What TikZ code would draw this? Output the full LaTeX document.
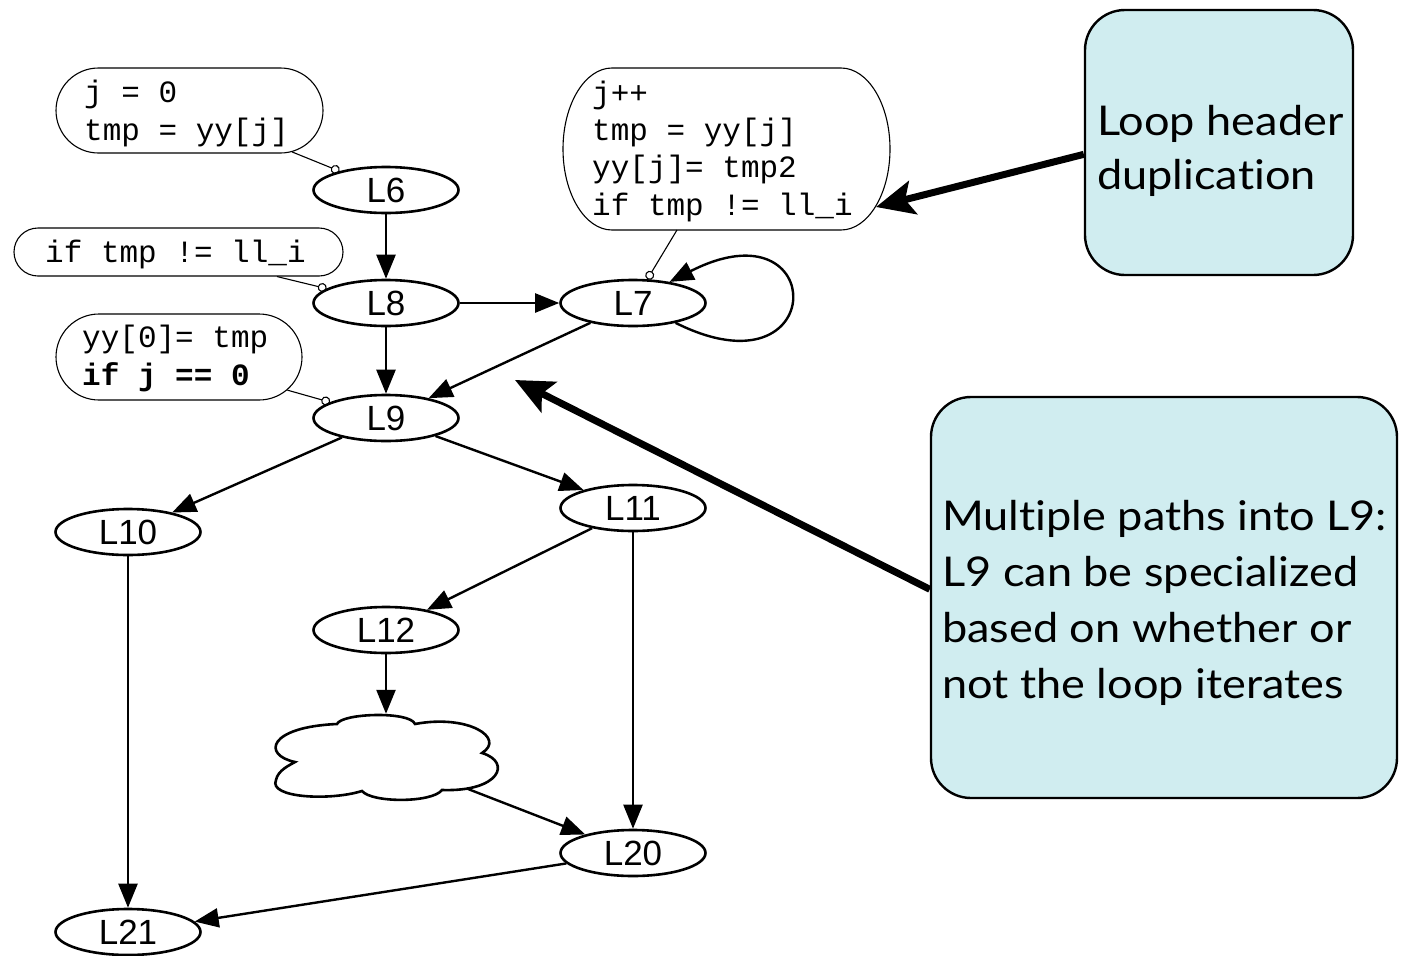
\documentclass[tikz,border=0pt]{standalone}
\usepackage{fontspec}
\setmainfont{Liberation Sans}
\newfontfamily\codefont{Liberation Mono}
\newfontfamily\notefont[FakeStretch=1.1,Ligatures=NoCommon]{Lato}
\usetikzlibrary{arrows.meta,shapes.geometric,shapes.misc}
\definecolor{noteblue}{RGB}{208,237,240}

\begin{document}
\begin{tikzpicture}[x=1pt,y=-1pt,
  block/.style={ellipse,draw,line width=2.6pt,minimum width=145pt,minimum height=46pt,
    inner sep=0pt,font=\fontsize{35}{40}\selectfont},
  flow/.style={line width=2.4pt,-{Triangle[length=24pt,width=19pt]}},
  codebox/.style={rounded rectangle,draw,line width=1.1pt,inner sep=0pt},
  codetext/.style={anchor=base west,align=left,inner sep=0pt,
    font=\codefont\fontsize{31}{37.3}\selectfont},
  tie/.style={line width=1.1pt,-{Circle[open,length=9pt,line width=1.1pt]}},
  notebox/.style={draw,line width=2.4pt,rounded corners=40pt,fill=noteblue,inner sep=0pt},
  notetext/.style={anchor=base west,align=left,inner sep=0pt,font=\notefont\fontsize{41}{55}\selectfont},
  pointer/.style={line width=7pt,-{Stealth[length=38pt,width=34pt,inset=8pt]}}]
\useasboundingbox (0,0) rectangle (1401,956);

% control-flow blocks
\node[block] (L6)  at (386,190) {L6};
\node[block] (L8)  at (386,303) {L8};
\node[block] (L7)  at (633,303) {L7};
\node[block] (L9)  at (386,418) {L9};
\node[block] (L10) at (128,532) {L10};
\node[block] (L11) at (633,508) {L11};
\node[block] (L12) at (386,630) {L12};
\node[block] (L20) at (633,853) {L20};
\node[block] (L21) at (128,932) {L21};

% the elided region between L12 and L20
\node[minimum width=228pt,minimum height=86pt,inner sep=0pt] (cloud) at (386,757) {};
\draw[line width=2.6pt]
  (295,762) .. controls (262,755) and (268,727) .. (337,724)
  .. controls (342,713) and (410,711) .. (415,724)
  .. controls (468,714) and (506,738) .. (482,753)
  .. controls (512,762) and (500,792) .. (442,790)
  .. controls (432,803) and (372,803) .. (362,791)
  .. controls (330,801) and (268,798) .. (276,780)
  .. controls (278,770) and (290,765) .. (295,762) -- cycle;
\coordinate (cloudtail) at (468,789);

% edges
\draw[flow] (L6) -- (L8);
\draw[flow] (L8) -- (L7);
\draw[flow] (L8) -- (L9);
\draw[flow] (L7) -- (L9);
\draw[flow] (L7.-25) .. controls (830,400) and (830,200) .. (L7.30);
\draw[flow] (L9) -- (L10);
\draw[flow] (L9) -- (L11);
\draw[flow] (L11) -- (L12);
\draw[flow] (L11) -- (L20);
\draw[flow] (L12) -- (cloud.north);
\draw[flow] (cloudtail) -- (L20);
\draw[flow] (L10) -- (L21);
\draw[flow] (L20) -- (L21);

% code annotations (text nodes are placed by the baseline of their last line)
\node[codebox,minimum width=267pt,minimum height=85pt] (a1) at (189.5,110.5) {};
\node[codetext] (a1t) at (84,140) {j = 0\\tmp = yy[j]};
\draw[tie] (a1.-22) -- (L6);

\node[codebox,minimum width=329pt,minimum height=48pt] (a2) at (178.5,252) {};
\node[codetext] (a2t) at (45,262) {if tmp != ll\_i};
\draw[tie] (a2.-14) -- (L8);

\node[codebox,minimum width=246pt,minimum height=86pt] (a3) at (179,357) {};
\node[codetext] (a3t) at (82,385) {yy[0]= tmp\\\textbf{if j == 0}};
\draw[tie] (a3.-17) -- (L9);

\draw[line width=1.1pt] (612,68) -- (841,68)
  arc[start angle=-90,end angle=90,x radius=49,y radius=81]
  -- (612,230) arc[start angle=90,end angle=270,x radius=49,y radius=81] -- cycle;
\node[codetext] (a4t) at (592,215) {j++\\tmp = yy[j]\\yy[j]= tmp2\\if tmp != ll\_i};
\coordinate (a4foot) at (677,230);
\coordinate (a4side) at (876,207);
\draw[tie] (a4foot) -- (L7);

% explanatory notes
\node[notebox,minimum width=268pt,minimum height=265pt] (b1) at (1219,142.5) {};
\node[notetext,font=\notefont\fontsize{41}{54}\selectfont] (b1t) at (1097,189) {Loop header\\duplication};
\draw[pointer] (b1.185) -- (a4side);

\node[notebox,minimum width=466pt,minimum height=401pt] (b2) at (1164,597.5) {};
\node[notetext,font=\notefont\fontsize{41}{56}\selectfont] (b2t) at (942,698)
  {Multiple paths into L9:\\L9 can be specialized\\based on whether or\\not the loop iterates};
\coordinate (l9mark) at (515,380);
\draw[pointer] (b2.178) -- (l9mark);
\end{tikzpicture}
\end{document}
